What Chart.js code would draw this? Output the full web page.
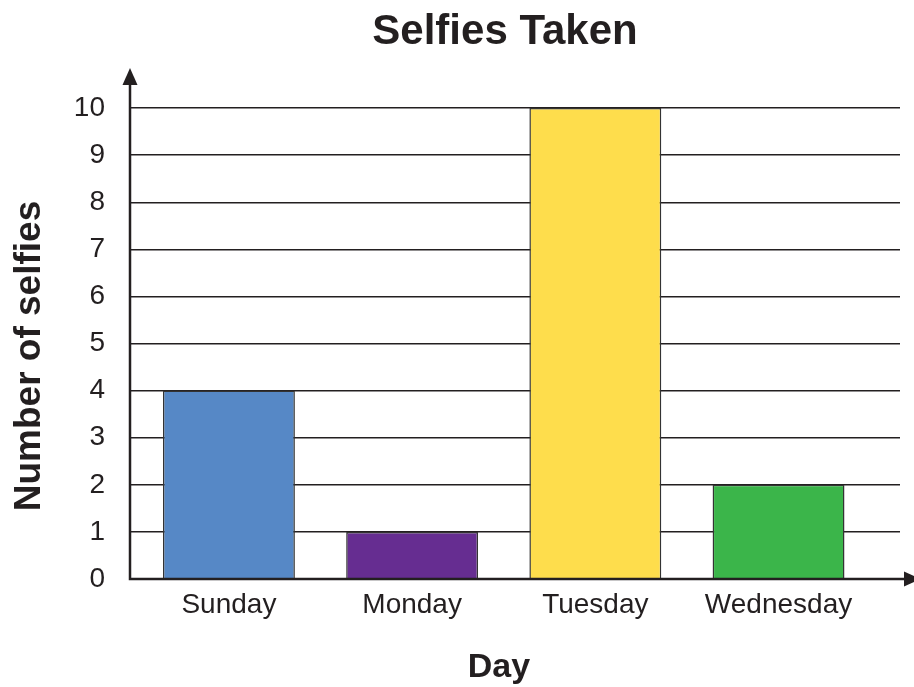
<!DOCTYPE html>
<html>
<head>
<meta charset="utf-8">
<title>Selfies Taken</title>
<script src="https://cdn.jsdelivr.net/npm/chart.js@4.4.0/dist/chart.umd.min.js"></script>
<style>
  html, body { margin: 0; padding: 0; background: #fff; }
  #wrap { width: 914px; height: 687px; position: relative; }
</style>
</head>
<body>
<div id="wrap"><canvas id="myChart"></canvas></div>
<script>
const days = ['Sunday', 'Monday', 'Tuesday', 'Wednesday'];
const selfies = [4, 1, 10, 2];
const barColors = ['#5688c6', '#662d91', '#fedd4c', '#3bb54a'];
const yTicks = [0, 1, 2, 3, 4, 5, 6, 7, 8, 9, 10];

const chartTitle = 'Selfies Taken';
const xTitle = 'Day';
const yTitle = 'Number of selfies';

const ink = '#231f20';
const family = '"Liberation Sans", Arial, Helvetica, sans-serif';

// axis lines with arrow heads, plus the titles
const decorations = {
    id: 'decorations',
    afterDatasetsDraw(chart) {
        const { ctx, chartArea: a } = chart;
        ctx.save();
        ctx.strokeStyle = ink;
        ctx.fillStyle = ink;
        ctx.lineWidth = 2.5;

        ctx.beginPath();
        ctx.moveTo(a.left, a.bottom + 1.25);
        ctx.lineTo(a.left, a.top - 30);
        ctx.moveTo(a.left - 1.25, a.bottom);
        ctx.lineTo(a.right + 8, a.bottom);
        ctx.stroke();

        // y arrow
        ctx.beginPath();
        ctx.moveTo(a.left, a.top - 40);
        ctx.lineTo(a.left - 7.5, a.top - 23);
        ctx.lineTo(a.left + 7.5, a.top - 23);
        ctx.closePath();
        ctx.fill();

        // x arrow
        ctx.beginPath();
        ctx.moveTo(a.right + 21, a.bottom);
        ctx.lineTo(a.right + 4, a.bottom - 7.5);
        ctx.lineTo(a.right + 4, a.bottom + 7.5);
        ctx.closePath();
        ctx.fill();

        // titles
        ctx.textAlign = 'center';
        ctx.textBaseline = 'alphabetic';
        ctx.font = 'bold 42px ' + family;
        ctx.fillText(chartTitle, 505, 44);

        ctx.font = 'bold 34px ' + family;
        ctx.fillText(xTitle, 499, 677);

        ctx.translate(40, 356);
        ctx.rotate(-Math.PI / 2);
        ctx.font = 'bold 37px ' + family;
        ctx.fillText(yTitle, 0, 0);
        ctx.restore();
    }
};

const ctx = document.getElementById('myChart').getContext('2d');
const myChart = new Chart(ctx, {
    type: 'bar',
    data: {
        datasets: [{
            label: yTitle,
            data: days.map((d, i) => ({ x: i, y: selfies[i] })),
            backgroundColor: barColors,
            borderColor: '#333333',
            borderWidth: 1.5,
            categoryPercentage: 0.8,
            barPercentage: 0.9
        }]
    },
    options: {
        responsive: true,
        maintainAspectRatio: false,
        animation: false,
        layout: { padding: { top: 108, right: 14, bottom: 0, left: 0 } },
        plugins: {
            legend: { display: false },
            tooltip: { enabled: false },
            title: { display: false }
        },
        scales: {
            x: {
                type: 'linear',
                offset: false,
                min: -0.54,
                max: 3.663,
                grid: { display: false, drawTicks: false, offset: false },
                border: { display: false },
                afterBuildTicks: s => { s.ticks = days.map((d, i) => ({ value: i })); },
                afterFit: s => { s.height = 108; },
                ticks: {
                    callback: v => days[v],
                    autoSkip: false,
                    maxRotation: 0,
                    padding: 9,
                    color: ink,
                    font: { family, size: 28 }
                }
            },
            y: {
                min: 0,
                max: 10,
                afterBuildTicks: s => { s.ticks = yTicks.map(v => ({ value: v })); },
                afterFit: s => { s.width = 130; },
                grid: { color: ink, lineWidth: 1.4, drawTicks: false },
                border: { display: false },
                ticks: {
                    padding: 25,
                    color: ink,
                    font: { family, size: 28 }
                }
            }
        }
    },
    plugins: [decorations]
});
</script>
</body>
</html>
